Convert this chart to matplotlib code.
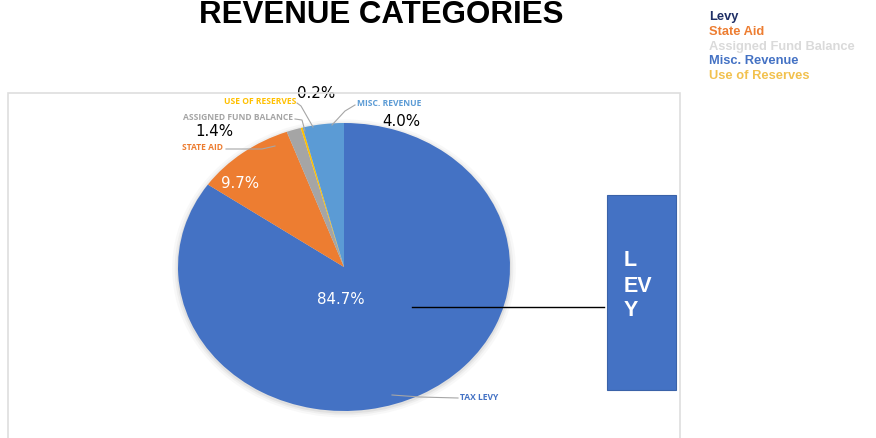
import matplotlib.pyplot as plt
import matplotlib.patches as mpatches
from matplotlib.lines import Line2D

# data
categories = ["TAX LEVY", "STATE AID", "ASSIGNED FUND BALANCE", "USE OF RESERVES", "MISC. REVENUE"]
shares = [84.7, 9.7, 1.4, 0.2, 4.0]
slice_colors = ["#4472C4", "#ED7D31", "#A5A5A5", "#FFC000", "#5B9BD5"]
label_colors = ["#4472C4", "#ED7D31", "#A5A5A5", "#FFC000", "#5B9BD5"]
legend_names = ["Levy", "State Aid", "Assigned Fund Balance", "Misc. Revenue", "Use of Reserves"]
legend_colors = ["#1F2F66", "#ED7D31", "#DADADA", "#4472C4", "#F2C14E"]

W, H = 876, 438
fig = plt.figure(figsize=(W / 100, H / 100), dpi=100)


def fx(x):
    return x / W


def fy(y):
    return (H - y) / H


# plot frame (light grey border, runs off the bottom)
fig.patches.append(mpatches.Rectangle((fx(8), fy(460)), fx(680) - fx(8), fy(93) - fy(460),
                                      transform=fig.transFigure, fill=False,
                                      edgecolor="#DEDEDE", lw=1.2, zorder=0))

# pie axes: centre (344, 267) px, radius 166 px wide, 144 px tall
cx, cy, rx, ry = 344, 267, 166, 144
lim = 1.2
ax = fig.add_axes([fx(cx - rx * lim), fy(cy + ry * lim), 2 * rx * lim / W, 2 * ry * lim / H])

# soft shadow behind the pie
for k, a in [(1.035, 0.05), (1.02, 0.08), (1.008, 0.12)]:
    ax.add_patch(mpatches.Ellipse((0.0, -0.01), 2 * k, 2 * k, color="#808080", alpha=a, lw=0, zorder=0))

wedges, _ = ax.pie(shares, colors=slice_colors, startangle=90, counterclock=False,
                   radius=1.0, wedgeprops=dict(linewidth=0))
ax.set_aspect("auto")
ax.set_xlim(-lim, lim)
ax.set_ylim(-lim, lim)
ax.axis("off")


def d(px, py):
    return ((px - cx) / rx, (cy - py) / ry)


# percentage labels
pct_pos = [(341, 299), (240, 183), (214, 131), (316, 93), (401, 121)]
pct_col = ["white", "white", "black", "black", "black"]
for v, p, c in zip(shares, pct_pos, pct_col):
    ax.text(*d(*p), f"{v:.1f}%", color=c, fontsize=10.8, ha="center", va="center",
            family="DejaVu Sans", zorder=5)

# category labels with leader lines
lab_pos = [(460, 398, "left"), (223, 148, "right"), (293, 118, "right"), (296, 101, "right"), (357, 104, "left")]
lead = [
    [(458, 398), (420, 397), (392, 395)],
    [(226, 149), (262, 149), (275, 146)],
    [(295, 119), (302, 120), (305, 131)],
    [(297, 103), (301, 106), (313, 127)],
    [(355, 105), (345, 111), (332, 125)],
]
for name, (px, py, ha), col, pts in zip(categories, lab_pos, label_colors, lead):
    ax.text(*d(px, py), name, color=col, fontsize=6.1, fontweight="bold", ha=ha, va="center",
            family="Open Sans", zorder=5, clip_on=False)
    xs = [d(*q)[0] for q in pts]
    ys = [d(*q)[1] for q in pts]
    ax.add_line(Line2D(xs, ys, color="#A6A6A6", lw=0.8, zorder=4, clip_on=False))

# title
fig.text(fx(381), fy(23), "REVENUE CATEGORIES", ha="center", va="baseline",
         fontsize=22.5, fontweight="bold", family="Liberation Sans", color="black")

# coloured text legend top right
for i, (n, c) in enumerate(zip(legend_names, legend_colors)):
    fig.text(fx(709), fy(20 + i * 14.8), n, ha="left", va="baseline", fontsize=9.3,
             fontweight="bold", family="Liberation Sans", color=c)

# LEVY call-out box and connector
fig.add_artist(Line2D([fx(412), fx(604)], [fy(307), fy(307)], color="black", lw=1.0))
fig.patches.append(mpatches.Rectangle((fx(607), fy(390)), fx(676) - fx(607), fy(195) - fy(390),
                                      transform=fig.transFigure, facecolor="#4472C4",
                                      edgecolor="#3A62A8", lw=0.8))
fig.text(fx(624), fy(286), "L\nEV\nY", ha="left", va="center", fontsize=15.5,
         fontweight="bold", family="Liberation Sans", color="white", linespacing=1.25)

fig.savefig("out.png", dpi=100)
